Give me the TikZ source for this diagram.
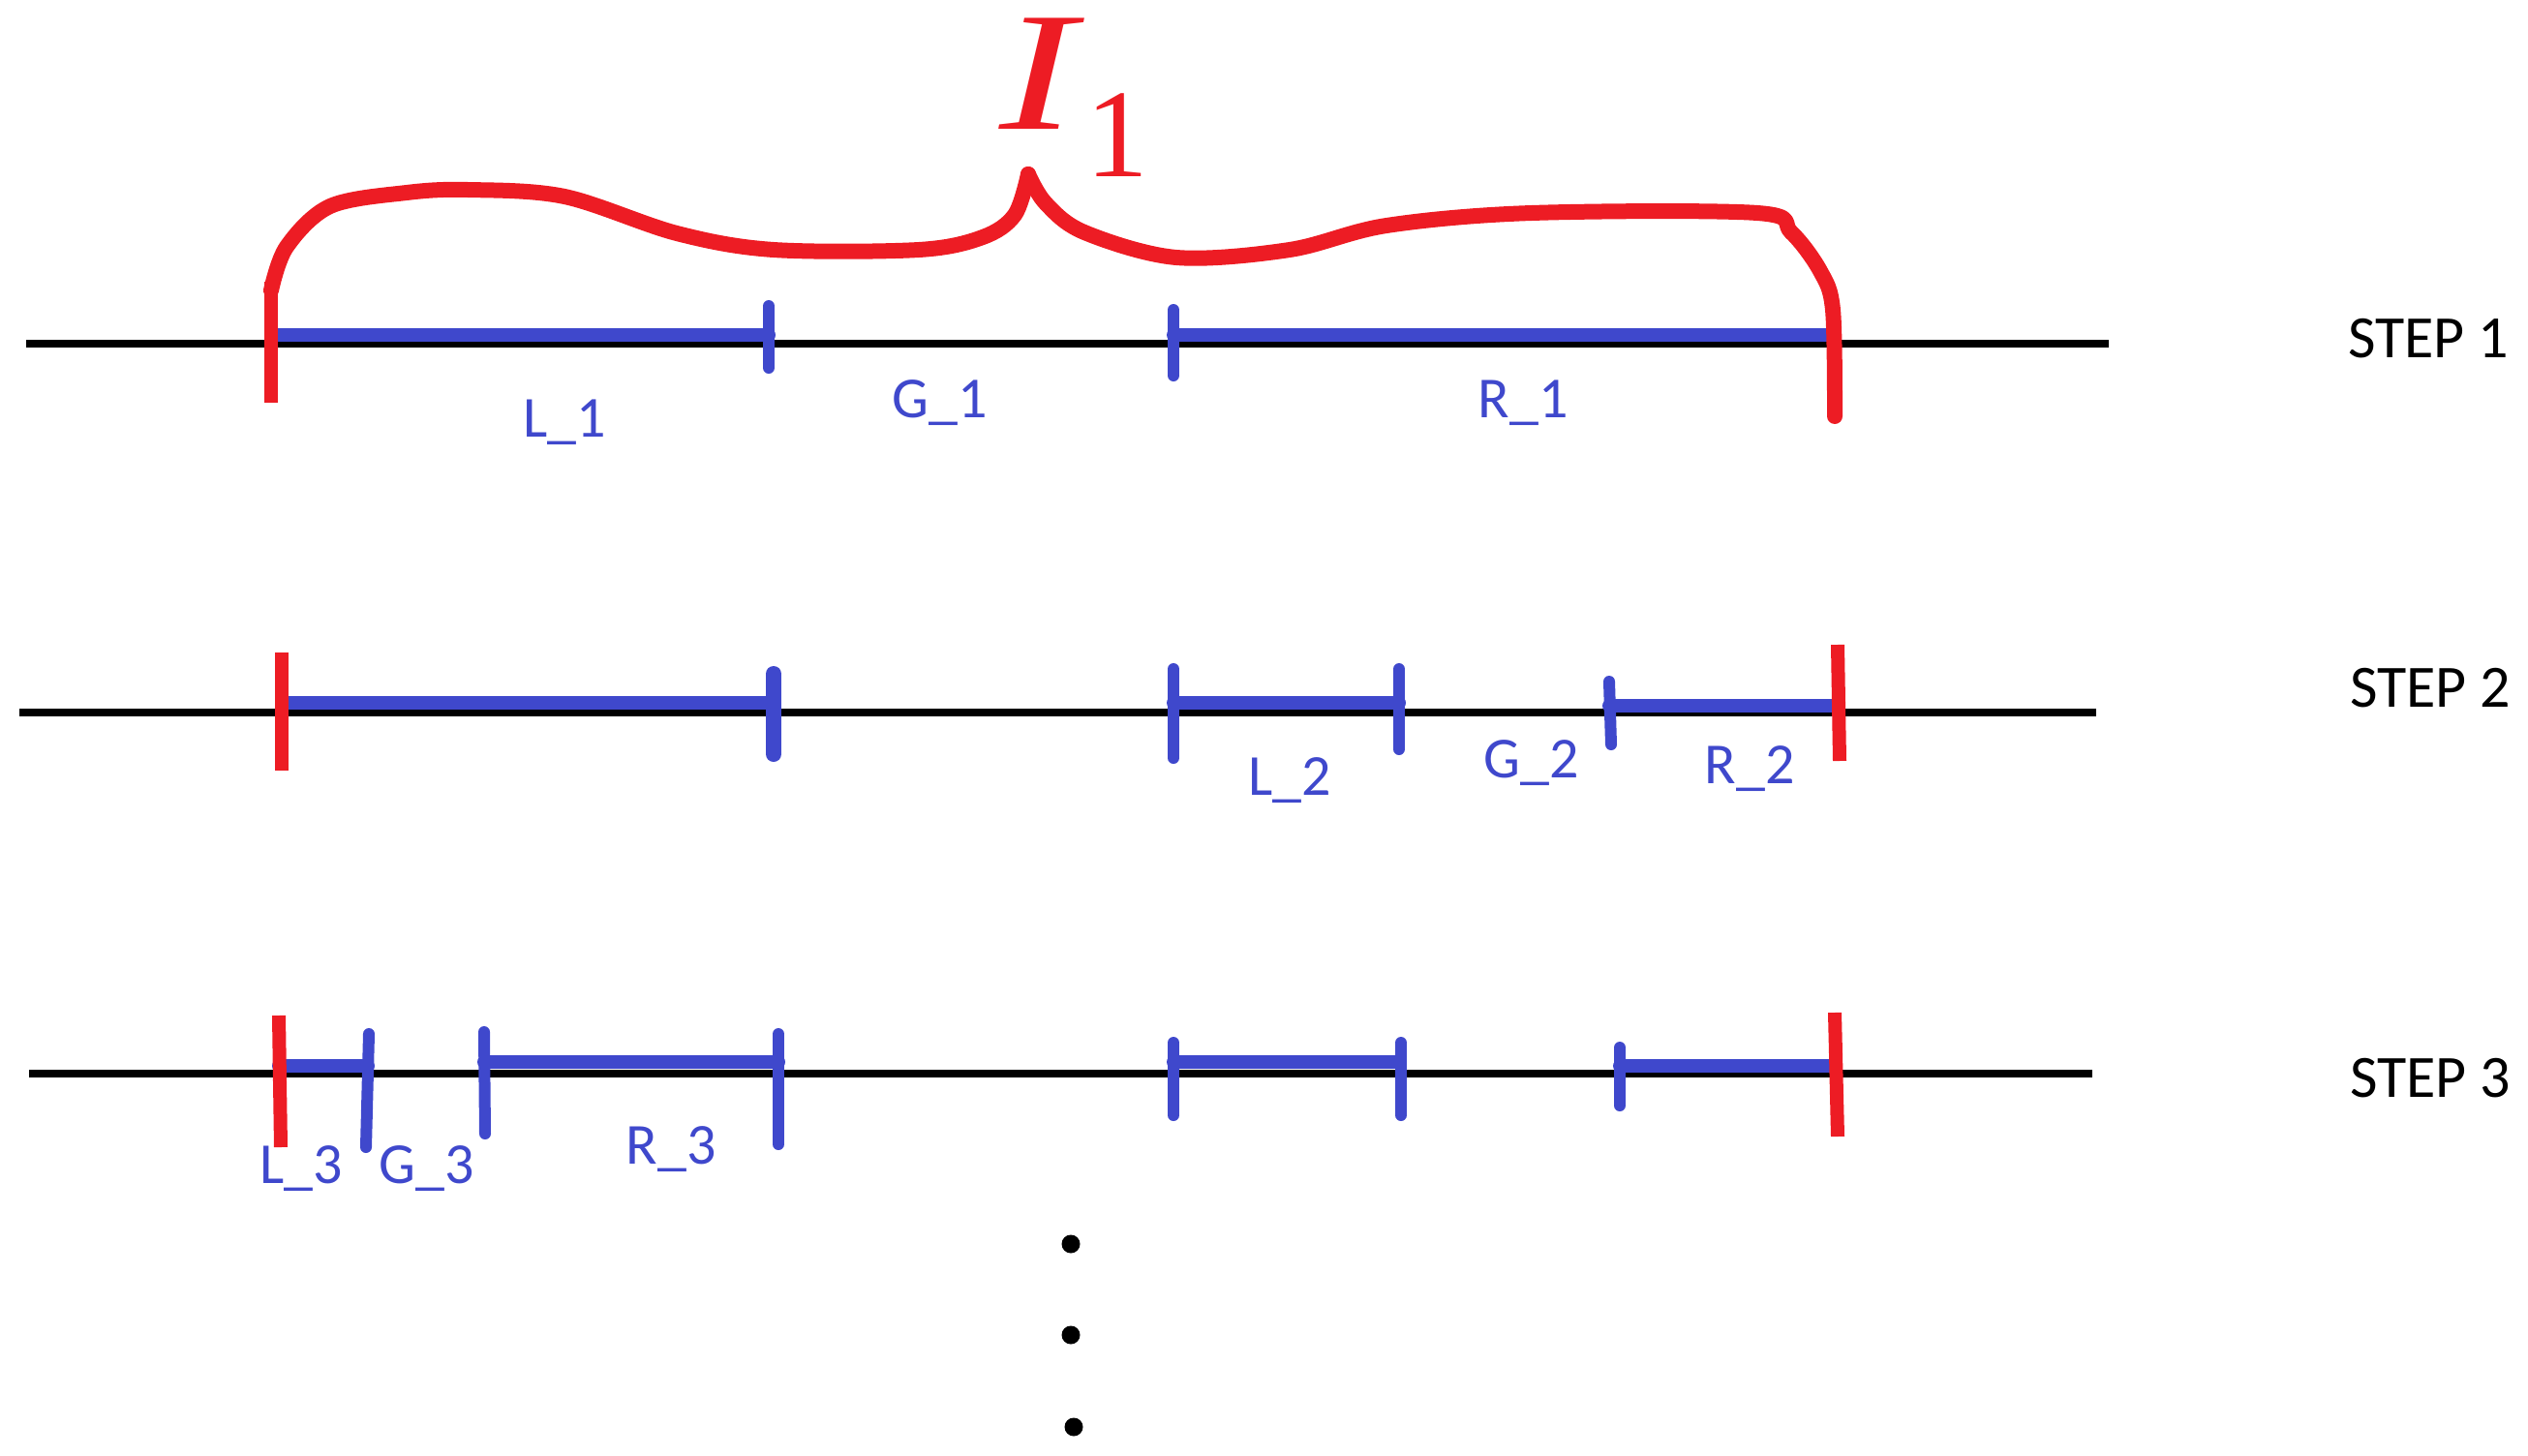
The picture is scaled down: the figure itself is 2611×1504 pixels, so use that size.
\documentclass[tikz,border=0pt]{standalone}
\usepackage{fontspec}
\setmainfont{Carlito}
\newfontfamily\serifI{Liberation Serif}
\definecolor{pblue}{HTML}{3F48CC}
\definecolor{pred}{HTML}{ED1C24}
\begin{document}
\begin{tikzpicture}[x=1pt,y=-1pt,
  axis/.style={line width=8pt,black},
  seg/.style={line width=14pt,pblue,line cap=round},
  btick/.style={line width=12pt,pblue,line cap=round},
  rtick/.style={line width=14pt,pred},
  brace/.style={line width=16pt,pred,line join=round,line cap=round},
  lbl/.style={text=pblue,font=\fontsize{60}{64}\selectfont,inner sep=0pt},
  steplbl/.style={font=\fontsize{62}{70}\selectfont,inner sep=0pt},
  dot/.style={circle,fill=black,inner sep=0pt,minimum size=19pt}]
\useasboundingbox (0,0) rectangle (2611,1504);

% ---------- STEP 1 ----------
\coordinate (a1s) at (27,355);  \coordinate (a1e) at (2178,355);
\draw[axis] (a1s) -- (a1e);
\coordinate (l1a) at (280,346); \coordinate (l1b) at (794,346);
\coordinate (r1a) at (1212,346); \coordinate (r1b) at (1890,346);
\draw[seg] (l1a) -- (l1b);
\draw[seg] (r1a) -- (r1b);
\coordinate (t1a) at (794,316); \coordinate (t1b) at (794,380);
\draw[btick] (t1a) -- (t1b);
\coordinate (t2a) at (1212,320); \coordinate (t2b) at (1212,388);
\draw[btick] (t2a) -- (t2b);
\coordinate (rl1a) at (280,291); \coordinate (rl1b) at (280,416);
\draw[rtick] (rl1a) -- (rl1b);
% brace
\draw[brace] plot[smooth,tension=0.55] coordinates
  {(280,300) (296,255) (341,213) (420,199) (483,196) (583,203) (699,241)
   (799,258) (949,258) (1015,245) (1048,222) (1062,180)};
\draw[brace] plot[smooth,tension=0.55] coordinates
  {(1062,180) (1080,210) (1120,240) (1215,266) (1332,258) (1432,233)
   (1582,220) (1815,220) (1850,240) (1880,280) (1893,320) (1895,430)};
\node[text=pred,font=\serifI\itshape\fontsize{175}{175}\selectfont,inner sep=0pt,
      text height=118pt,text depth=0pt,anchor=base,xscale=1.35] (I) at (1072,133) {I};
\node[text=pred,font=\serifI\fontsize{130}{130}\selectfont,inner sep=0pt,
      text height=90pt,text depth=0pt,anchor=base] (Isub) at (1154,182) {1};
\node[lbl] (L1) at (583,436) {L\_1};
\node[lbl] (G1) at (971,416) {G\_1};
\node[lbl] (R1) at (1573,416) {R\_1};
\node[steplbl] (S1) at (2508,350) {STEP 1};

% ---------- STEP 2 ----------
\coordinate (a2s) at (20,736);  \coordinate (a2e) at (2165,736);
\draw[axis] (a2s) -- (a2e);
\coordinate (b1a) at (291,726); \coordinate (b1b) at (799,726);
\coordinate (b2a) at (1212,726); \coordinate (b2b) at (1445,726);
\coordinate (b3a) at (1662,729); \coordinate (b3b) at (1898,729);
\draw[seg] (b1a) -- (b1b);
\draw[seg] (b2a) -- (b2b);
\draw[seg] (b3a) -- (b3b);
\draw[btick,line width=16pt] (799,696) coordinate (u1) -- (799,779) coordinate (u2);
\draw[btick] (1212,691) coordinate (u3) -- (1212,783) coordinate (u4);
\draw[btick] (1445,691) coordinate (u5) -- (1445,774) coordinate (u6);
\draw[btick] (1662,704) coordinate (u7) -- (1664,769) coordinate (u8);
\draw[rtick] (291,674) coordinate (v1) -- (291,796) coordinate (v2);
\draw[rtick] (1898,666) coordinate (v3) -- (1900,786) coordinate (v4);
\node[lbl] (L2) at (1332,806) {L\_2};
\node[lbl] (G2) at (1582,788) {G\_2};
\node[lbl] (R2) at (1807,794) {R\_2};
\node[steplbl] (S2) at (2510,711) {STEP 2};

% ---------- STEP 3 ----------
\coordinate (a3s) at (30,1109);  \coordinate (a3e) at (2161,1109);
\draw[axis] (a3s) -- (a3e);
\coordinate (c1a) at (288,1101); \coordinate (c1b) at (380,1101);
\coordinate (c2a) at (500,1097); \coordinate (c2b) at (804,1097);
\coordinate (c3a) at (1212,1097); \coordinate (c3b) at (1445,1097);
\coordinate (c4a) at (1673,1101); \coordinate (c4b) at (1895,1101);
\draw[seg] (c1a) -- (c1b);
\draw[seg] (c2a) -- (c2b);
\draw[seg] (c3a) -- (c3b);
\draw[seg] (c4a) -- (c4b);
\draw[btick] (381,1068) coordinate (w1) -- (378,1185) coordinate (w2);
\draw[btick] (500,1066) coordinate (w3) -- (501,1171) coordinate (w4);
\draw[btick] (804,1068) coordinate (w5) -- (804,1182) coordinate (w6);
\draw[btick] (1212,1077) coordinate (w7) -- (1212,1152) coordinate (w8);
\draw[btick] (1447,1077) coordinate (w9) -- (1447,1152) coordinate (w10);
\draw[btick] (1673,1082) coordinate (w11) -- (1673,1142) coordinate (w12);
\draw[rtick] (288,1049) coordinate (x1) -- (290,1185) coordinate (x2);
\draw[rtick] (1895,1046) coordinate (x3) -- (1898,1174) coordinate (x4);
\node[lbl] (L3) at (311,1207) {L\_3};
\node[lbl] (G3) at (441,1207) {G\_3};
\node[lbl] (R3) at (693,1187) {R\_3};
\node[steplbl] (S3) at (2510,1114) {STEP 3};

% ---------- dots ----------
\node[dot] (d1) at (1106,1285) {};
\node[dot] (d2) at (1106,1379) {};
\node[dot] (d3) at (1109,1474) {};
\end{tikzpicture}
\end{document}
